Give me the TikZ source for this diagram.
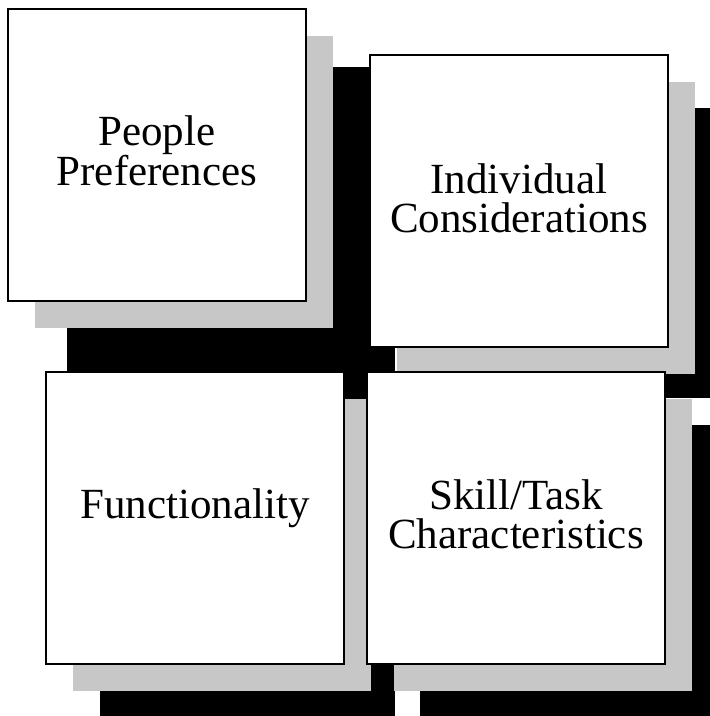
\documentclass[tikz,border=0pt]{standalone}
\usepackage{fontspec}
\setmainfont{Liberation Serif}
\usetikzlibrary{backgrounds}

\tikzset{
  card/.style={draw, line width=1.4pt, fill=white, outer sep=0pt,
    minimum width=298pt, minimum height=292pt},
  cardtext/.style={align=center, font=\fontsize{43}{39}\selectfont},
  halftone/.style={fill=black!22},
}

\begin{document}
\begin{tikzpicture}[x=1pt, y=-1pt]
\useasboundingbox (0,0) rectangle (710,716);

\node[card, label={[cardtext, yshift=4pt]center:People\\Preferences}] (pref) at (157,155) {};
\node[card, label={[cardtext, yshift=3pt]center:Individual\\Considerations}] (indiv) at (519,201) {};
\node[card, label={[cardtext, yshift=10pt]center:Functionality}] (func) at (195,518) {};
\node[card, label={[cardtext, yshift=4pt]center:Skill/Task\\Characteristics}] (skill) at (516,518) {};

\begin{scope}[on background layer]
	% black shadows
	\fill (67,67) rectangle (395,400);
	\fill (422,108) rectangle (710,398);
	\fill (100,425) rectangle (395,716);
	\fill (420,425) rectangle (710,716);
	% grey shadows
	\foreach \b in {pref,indiv,func,skill}
		\fill[halftone] ([shift={(27,27)}]\b.north west) rectangle ([shift={(27,27)}]\b.south east);
\end{scope}
\end{tikzpicture}
\end{document}
